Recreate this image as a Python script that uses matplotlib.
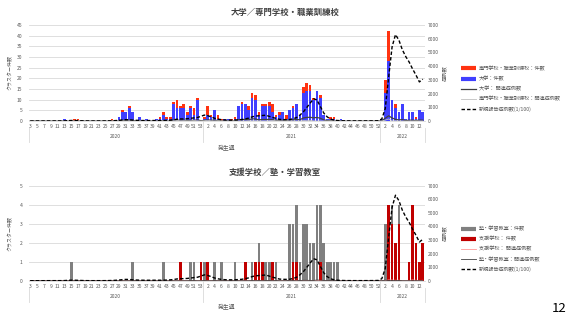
import numpy as np
import matplotlib.pyplot as plt
import matplotlib.transforms as mtransforms
from matplotlib.lines import Line2D

plt.rcParams['font.family'] = ['Noto Sans CJK JP', 'DejaVu Sans']

# 発生週（2020年3週〜2022年13週）
weeks = list(range(3, 54)) + list(range(1, 53)) + list(range(1, 14))
years = ['2020', '2021', '2022']
year_sizes = [51, 52, 13]

# ---- 大学／専門学校・職業訓練校 ----
daigaku = ([0]*10 + [1, 0, 0, 0, 0, 0, 0, 0, 0, 0, 0, 0, 0, 0, 0]
           + [0, 2, 4, 4, 6, 4, 0, 2, 0, 1, 0, 0, 1, 1, 3, 1, 1, 8, 6, 6, 6, 3, 6, 3, 10, 0]
           + [1, 3, 2, 5, 1, 0, 1, 1, 0, 1, 7, 8, 8, 5, 11, 10, 3, 7, 7, 7,
              4, 2, 3, 4, 1, 5, 6, 8, 3, 13, 14, 14, 10, 14, 11, 3, 1, 1, 1, 0,
              1] + [0]*11
           + [1, 13, 28, 10, 6, 4, 8, 1, 4, 4, 1, 5, 4])
senmon = ([0]*13 + [1, 1] + [0]*9 + [1, 0, 0, 1, 0, 1] + [0]*8
          + [1, 1, 1, 1, 1, 4, 1, 2, 1, 1, 3, 1, 0]
          + [1, 4, 1, 0, 2, 1, 0, 0, 1, 1, 0, 1, 0, 2, 2, 2, 1, 1, 1, 2,
             4, 1, 1, 0, 2, 0, 1, 0, 0, 3, 4, 3, 1, 0, 1, 0, 0, 1, 1, 0] + [0]*12
          + [0, 6, 14, 0, 2, 0, 0, 0, 0, 0, 1, 0, 0])
daigaku_kanren = ([0]*10 + [5] + [0]*15
                  + [20, 40, 40, 60, 40, 10, 15, 5, 5, 5, 5, 10, 10, 30, 15, 15, 70, 60, 60, 60, 40, 60, 40, 90, 20]
                  + [40, 80, 60, 60, 30, 10, 10, 10, 10, 20, 90, 110, 100, 90, 160, 150, 80, 110, 110, 120,
                     90, 50, 50, 60, 40, 70, 80, 110, 90, 220, 260, 270, 230, 260, 200, 80, 30, 30, 20, 10,
                     10] + [0]*11
                  + [20, 200, 380, 220, 120, 80, 100, 30, 60, 60, 30, 70, 60])
senmon_kanren = ([0]*13 + [10, 10] + [0]*9 + [10, 0, 0, 10, 0, 10] + [0]*8
                 + [10, 10, 10, 10, 10, 40, 10, 20, 10, 10, 30, 10, 0]
                 + [20, 50, 10, 0, 20, 10, 0, 0, 10, 10, 0, 10, 0, 20, 20, 20, 10, 10, 10, 20,
                    40, 10, 10, 0, 20, 0, 10, 0, 0, 30, 50, 40, 10, 0, 10, 0, 0, 10, 10, 0] + [0]*12
                 + [0, 60, 150, 10, 20, 0, 0, 0, 0, 0, 10, 0, 0])

# 新規報告症例数(1/100)
shinki = ([0, 0, 0, 1, 1, 2, 3, 3, 3, 4, 9, 25, 38, 37, 27, 16, 7, 3, 2, 2,
           3, 3, 5, 9, 16, 30, 46, 78, 96, 90, 66, 52, 40, 34, 32, 32, 34, 34, 35, 38,
           48, 60, 88, 128, 150, 150, 168, 195, 230, 255, 340]
          + [430, 390, 300, 200, 140, 95, 75, 65, 65, 70, 85, 105, 150, 210, 300, 360, 380, 400, 420, 340,
             260, 190, 120, 100, 100, 110, 160, 250, 430, 660, 980, 1300, 1620, 1540, 1050, 580, 300, 140, 70, 35,
             20, 12, 8, 6, 5, 5, 5, 6, 7, 8, 12, 20]
          + [150, 900, 3200, 5400, 6300, 5900, 5200, 4700, 4300, 3800, 3350, 2850, 3050])

# ---- 支援学校／塾・学習教室 ----
juku = ([0]*12 + [1] + [0]*17 + [1] + [0]*8 + [1] + [0]*7 + [1, 1, 0, 0]
        + [1, 0, 0, 1, 0, 1, 0, 0, 0, 1, 0, 0, 0, 0, 1, 0, 1, 0, 1, 1,
           0, 1, 0, 0, 0, 3, 2, 3, 1, 3, 3, 2, 2, 4, 3, 2, 1, 1, 1, 1] + [0]*12
        + [0, 3, 0, 1, 0, 1, 0, 0, 0, 0, 0, 0, 0])
shien = ([0]*44 + [1] + [0]*5 + [1]
         + [0, 1, 0, 0, 0, 0, 0, 0, 0, 0, 0, 0, 1, 0, 0, 1, 1, 1, 0, 0,
            1, 0, 0, 0, 0, 0, 1, 1, 0, 0, 0, 0, 0, 0, 1, 0, 0, 0, 0, 0] + [0]*12
         + [0, 0, 4, 3, 2, 3, 0, 0, 1, 4, 2, 1, 2])
shien_kanren = ([0]*44 + [10] + [0]*5 + [10]
                + [0, 10, 0, 0, 0, 0, 0, 0, 0, 0, 0, 0, 10, 0, 0, 10, 10, 10, 0, 0,
                   10, 0, 0, 0, 0, 0, 10, 10, 0, 0, 0, 0, 0, 0, 10, 0, 0, 0, 0, 0] + [0]*12
                + [0, 0, 60, 50, 30, 40, 0, 0, 10, 60, 30, 10, 30])
juku_kanren = ([0]*12 + [10] + [0]*17 + [10] + [0]*8 + [10] + [0]*7 + [10, 10, 0, 0]
               + [10, 0, 0, 10, 0, 10, 0, 0, 0, 10, 0, 0, 0, 0, 10, 0, 10, 0, 10, 10,
                  0, 10, 0, 0, 0, 30, 20, 40, 10, 30, 30, 20, 20, 50, 40, 20, 10, 10, 10, 10] + [0]*12
               + [0, 40, 10, 20, 0, 20, 0, 0, 0, 0, 0, 0, 0])

W, H = 569, 320
fig = plt.figure(figsize=(W / 100, H / 100), dpi=100)
fig.patch.set_facecolor('white')
GRAY = '#595959'


def fx(px):
    return px / W


def fy(py):
    return 1 - py / H


def panel(top_px, bottom_px, bars, lines, ymax, ystep, title, title_x):
    ax = fig.add_axes([fx(28.5), fy(bottom_px), fx(424.5) - fx(28.5), (bottom_px - top_px) / H])
    x = np.arange(len(weeks))
    base = np.zeros(len(weeks))
    for vals, color in bars:
        ax.bar(x, vals, bottom=base, width=0.78, color=color, zorder=2)
        base = base + np.array(vals)
    ax.set_xlim(-0.5, len(weeks) - 0.5)
    ax.set_ylim(0, ymax)
    ax.set_yticks(np.arange(0, ymax + 0.1, ystep))
    ax.grid(axis='y', color='#d9d9d9', lw=0.6)
    ax.set_axisbelow(True)
    for s in ['top', 'left', 'right']:
        ax.spines[s].set_visible(False)
    ax.spines['bottom'].set_color('#d9d9d9')
    ax.spines['bottom'].set_linewidth(0.6)
    ax.set_xticks(x[::2])
    ax.set_xticklabels(weeks[::2])
    ax.tick_params(axis='x', length=0, labelsize=3.6, colors=GRAY, pad=2.5)
    ax.tick_params(axis='y', length=0, labelsize=3.6, colors=GRAY, pad=4.5)

    axr = ax.twinx()
    axr.set_ylim(0, 7000)
    axr.set_yticks(np.arange(0, 7001, 1000))
    axr.tick_params(axis='y', length=0, labelsize=3.6, colors=GRAY, pad=2.5)
    for s in axr.spines.values():
        s.set_visible(False)
    for vals, color, lw, ls in lines:
        axr.plot(x, vals, color=color, lw=lw, ls=ls)

    # 年の区切り
    trans = mtransforms.blended_transform_factory(ax.transData, ax.transAxes)
    h = bottom_px - top_px
    edges = [-0.5]
    for n in year_sizes:
        edges.append(edges[-1] + n)
    for i, e in enumerate(edges):
        y0 = 0 if 0 < i < len(edges) - 1 else -7 / h
        ax.plot([e, e], [y0, -21 / h], transform=trans, color='#d9d9d9', lw=0.6, clip_on=False)
    for i, yr in enumerate(years):
        ax.text((edges[i] + edges[i + 1]) / 2, -16 / h, yr, transform=trans,
                ha='center', va='center', fontsize=3.6, color=GRAY)

    mid = (top_px + bottom_px) / 2
    fig.text(fx(title_x), fy(top_px - 13), title, ha='center', va='center',
             fontsize=6, color='#404040', fontweight='bold')
    fig.text(fx(10.5), fy(mid), 'クラスター件数', rotation=90, ha='center', va='center',
             fontsize=3.6, color=GRAY)
    fig.text(fx(445), fy(mid), '症例数', rotation=90, ha='center', va='center',
             fontsize=3.8, color=GRAY)
    fig.text(fx(226.5), fy(bottom_px + 26), '発生週', ha='center', va='center',
             fontsize=4.2, color=GRAY)
    return ax


panel(25, 121,
      [(daigaku, '#4040FF'), (senmon, '#FF3311')],
      [(daigaku_kanren, '#404040', 0.9, '-'),
       (senmon_kanren, '#bfbfbf', 0.6, '-'),
       (shinki, 'black', 1.0, (0, (2.5, 1.5)))],
      45, 5, '大学／専門学校・職業訓練校', 285)

panel(185.7, 280.7,
      [(shien, '#C00000'), (juku, '#808080')],
      [(shien_kanren, '#ff9999', 0.6, '-'),
       (juku_kanren, '#404040', 0.6, '-'),
       (shinki, 'black', 1.0, (0, (2.5, 1.5)))],
      5, 1, '支援学校／塾・学習教室', 275)

leg_top = [
    (Line2D([], [], color='#FF3311', lw=3, solid_capstyle='butt'), '専門学校・職業訓練校：件数'),
    (Line2D([], [], color='#4040FF', lw=3, solid_capstyle='butt'), '大学：件数'),
    (Line2D([], [], color='#404040', lw=0.9), '大学： 関連症例数'),
    (Line2D([], [], color='#bfbfbf', lw=0.6), '専門学校・職業訓練校：関連症例数'),
    (Line2D([], [], color='black', lw=1.0, ls=(0, (2.5, 1.5))), '新規報告症例数(1/100)'),
]
leg_bot = [
    (Line2D([], [], color='#808080', lw=3, solid_capstyle='butt'), '塾・学習教室：件数'),
    (Line2D([], [], color='#C00000', lw=3, solid_capstyle='butt'), '支援学校： 件数'),
    (Line2D([], [], color='#ff9999', lw=0.6), '支援学校： 関連症例数'),
    (Line2D([], [], color='#404040', lw=0.6), '塾・学習教室：関連症例数'),
    (Line2D([], [], color='black', lw=1.0, ls=(0, (2.5, 1.5))), '新規報告症例数(1/100)'),
]
for items, top in [(leg_top, 66), (leg_bot, 226)]:
    leg = fig.legend([h for h, _ in items], [t for _, t in items], loc='upper left',
                     bbox_to_anchor=(fx(461), fy(top)), frameon=False, fontsize=3.7,
                     handlelength=3.0, handletextpad=0.5, labelspacing=0.95,
                     borderpad=0, borderaxespad=0)
    for t in leg.get_texts():
        t.set_color(GRAY)

fig.text(fx(559), fy(308), '12', ha='center', va='center', fontsize=9.5, color='black')

fig.savefig('out.png', dpi=100)
